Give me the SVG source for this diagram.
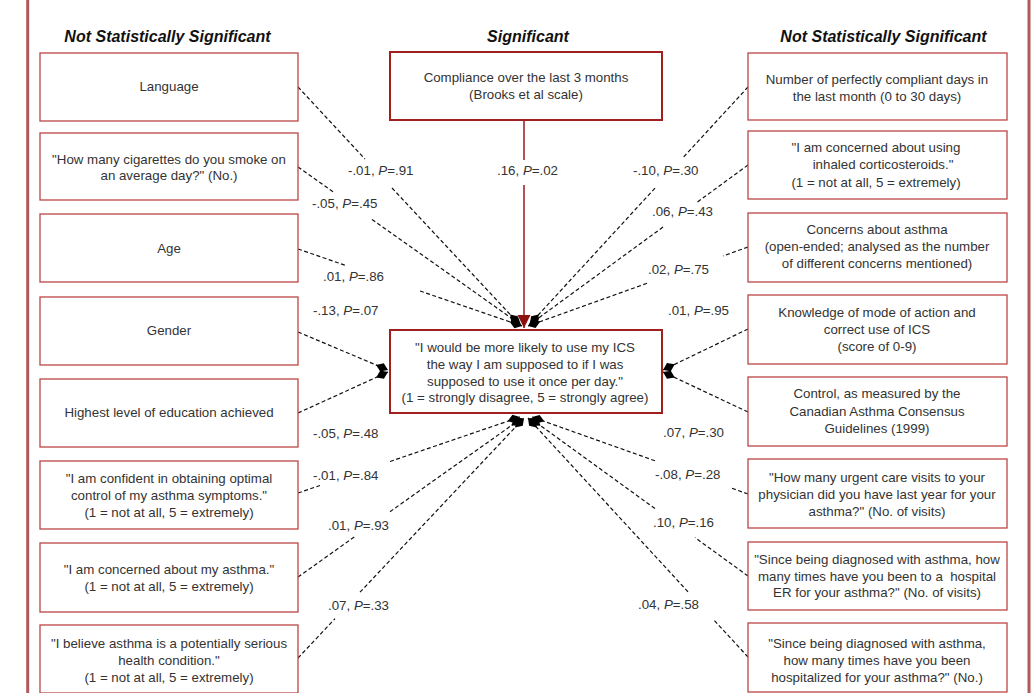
<svg xmlns="http://www.w3.org/2000/svg" width="1035" height="693" viewBox="0 0 1035 693">
<style>
.t{font-family:"Liberation Sans",Arial,sans-serif;font-size:13.3px;fill:#333;text-anchor:middle}
.h{font-family:"Liberation Sans",Arial,sans-serif;font-size:16px;font-weight:bold;font-style:italic;fill:#111;text-anchor:middle}
.l{font-family:"Liberation Sans",Arial,sans-serif;font-size:13.3px;fill:#333}
.box{fill:#fff;stroke:#bc4646;stroke-width:1.3}
.main{fill:#fff;stroke:#a02020;stroke-width:2}
.d{stroke:#111;stroke-width:1.2;stroke-dasharray:4 2.5;fill:none}
.dm{stroke:#111;stroke-width:1.2;stroke-dasharray:4 2.5;fill:none;marker-end:url(#dia)}
.side{stroke:#b05a5a;stroke-width:3}
</style>
<defs>
<marker id="dia" markerUnits="userSpaceOnUse" markerWidth="14" markerHeight="10" viewBox="0 -5 14 10" refX="13" refY="0" orient="auto">
<path d="M0,0 L6.5,-4.5 L13,0 L6.5,4.5 Z" fill="#000"/>
</marker>
<marker id="tri" markerUnits="userSpaceOnUse" markerWidth="14" markerHeight="14" viewBox="0 -7 14 14" refX="13" refY="0" orient="auto">
<path d="M0,-6.5 L13,0 L0,6.5 Z" fill="#8b1010"/>
</marker>
</defs>
<rect width="1035" height="693" fill="#fff"/>
<line class="side" x1="27.7" y1="0" x2="27.7" y2="693"/>
<line class="side" x1="1029" y1="0" x2="1029" y2="693"/>
<text class="h" x="167.5" y="42">Not Statistically Significant</text>
<text class="h" x="528" y="42">Significant</text>
<text class="h" x="883.5" y="42">Not Statistically Significant</text>

<g id="connectors">
<line class="d" x1="298" y1="87" x2="365" y2="159"/><line class="dm" x1="392" y1="188" x2="519" y2="324"/>
<line class="d" x1="298" y1="167" x2="333" y2="191.8"/><line class="dm" x1="372" y1="219.4" x2="521" y2="325"/>
<line class="d" x1="298" y1="249" x2="345" y2="265.2"/><line class="dm" x1="420" y1="291" x2="522" y2="326"/>
<line class="dm" x1="298" y1="332" x2="388" y2="370"/>
<line class="dm" x1="298" y1="413" x2="388" y2="372"/>
<line class="d" x1="298" y1="493" x2="320" y2="485.5"/><line class="dm" x1="390" y1="461.5" x2="520" y2="417"/>
<line class="d" x1="298" y1="577" x2="355" y2="536.5"/><line class="dm" x1="390" y1="511.7" x2="522" y2="418"/>
<line class="d" x1="298" y1="658" x2="335" y2="618.7"/><line class="dm" x1="360" y1="592.2" x2="524" y2="418"/>
<line class="d" x1="748" y1="87" x2="683" y2="157.7"/><line class="dm" x1="655" y1="188.1" x2="530" y2="324"/>
<line class="d" x1="748" y1="165" x2="697" y2="202.3"/><line class="dm" x1="663" y1="227.1" x2="529" y2="325"/>
<line class="d" x1="748" y1="247" x2="723" y2="256"/><line class="dm" x1="647" y1="283.3" x2="528" y2="326"/>
<line class="dm" x1="748" y1="329" x2="663" y2="370"/>
<line class="dm" x1="748" y1="412" x2="663" y2="372"/>
<line class="d" x1="748" y1="494" x2="730" y2="487.6"/><line class="dm" x1="655" y1="460.8" x2="532" y2="417"/>
<line class="d" x1="748" y1="576" x2="695" y2="537.6"/><line class="dm" x1="655" y1="508.6" x2="530" y2="418"/>
<line class="d" x1="748" y1="657" x2="713" y2="619"/><line class="dm" x1="688" y1="591.8" x2="528" y2="418"/>
<line x1="524" y1="120" x2="524" y2="160" stroke="#a02828" stroke-width="1.6"/>
<line x1="524" y1="185" x2="524" y2="328" stroke="#a02828" stroke-width="1.6" marker-end="url(#tri)"/>
</g>

<g id="labels">
<text class="l" x="348" y="175">-.01, <tspan font-style="italic">P</tspan>=.91</text>
<text class="l" x="312" y="208">-.05, <tspan font-style="italic">P</tspan>=.45</text>
<text class="l" x="323" y="281">.01, <tspan font-style="italic">P</tspan>=.86</text>
<text class="l" x="313" y="315">-.13, <tspan font-style="italic">P</tspan>=.07</text>
<text class="l" x="313" y="438">-.05, <tspan font-style="italic">P</tspan>=.48</text>
<text class="l" x="313" y="480">-.01, <tspan font-style="italic">P</tspan>=.84</text>
<text class="l" x="328" y="530">.01, <tspan font-style="italic">P</tspan>=.93</text>
<text class="l" x="328" y="610">.07, <tspan font-style="italic">P</tspan>=.33</text>
<text class="l" x="497" y="175">.16, <tspan font-style="italic">P</tspan>=.02</text>
<text class="l" x="633" y="175">-.10, <tspan font-style="italic">P</tspan>=.30</text>
<text class="l" x="652" y="216">.06, <tspan font-style="italic">P</tspan>=.43</text>
<text class="l" x="648" y="274">.02, <tspan font-style="italic">P</tspan>=.75</text>
<text class="l" x="668" y="315">.01, <tspan font-style="italic">P</tspan>=.95</text>
<text class="l" x="663" y="437">.07, <tspan font-style="italic">P</tspan>=.30</text>
<text class="l" x="655" y="479">-.08, <tspan font-style="italic">P</tspan>=.28</text>
<text class="l" x="653" y="527">.10, <tspan font-style="italic">P</tspan>=.16</text>
<text class="l" x="638" y="609">.04, <tspan font-style="italic">P</tspan>=.58</text>
</g>

<g id="n-compliance"><rect class="main" x="390" y="52" width="272" height="68" stroke-width="1.6"/>
<text class="t" x="526" y="82">Compliance over the last 3 months</text>
<text class="t" x="526" y="99">(Brooks et al scale)</text></g>

<g id="n-outcome"><rect class="main" x="390" y="330" width="272" height="83"/>
<text class="t" x="525" y="352">"I would be more likely to use my ICS</text>
<text class="t" x="525" y="369">the way I am supposed to if I was</text>
<text class="t" x="525" y="386">supposed to use it once per day."</text>
<text class="t" x="525" y="402">(1 = strongly disagree, 5 = strongly agree)</text></g>

<g id="n-language"><rect class="box" x="40" y="53" width="258" height="68"/>
<text class="t" x="169" y="91">Language</text></g>
<g id="n-cigarettes"><rect class="box" x="40" y="133" width="258" height="67"/>
<text class="t" x="169" y="164">"How many cigarettes do you smoke on</text>
<text class="t" x="169" y="180">an average day?" (No.)</text></g>
<g id="n-age"><rect class="box" x="40" y="214" width="258" height="68"/>
<text class="t" x="169" y="253">Age</text></g>
<g id="n-gender"><rect class="box" x="40" y="297" width="258" height="68"/>
<text class="t" x="169" y="335">Gender</text></g>
<g id="n-education"><rect class="box" x="40" y="379" width="258" height="68"/>
<text class="t" x="169" y="417">Highest level of education achieved</text></g>
<g id="n-confident"><rect class="box" x="40" y="461" width="258" height="68"/>
<text class="t" x="169" y="483">"I am confident in obtaining optimal</text>
<text class="t" x="169" y="500">control of my asthma symptoms."</text>
<text class="t" x="169" y="517">(1 = not at all, 5 = extremely)</text></g>
<g id="n-concerned"><rect class="box" x="40" y="543" width="258" height="69"/>
<text class="t" x="169" y="574">"I am concerned about my asthma."</text>
<text class="t" x="169" y="591">(1 = not at all, 5 = extremely)</text></g>
<g id="n-serious"><rect class="box" x="40" y="625" width="258" height="68"/>
<text class="t" x="169" y="648">"I believe asthma is a potentially serious</text>
<text class="t" x="169" y="665">health condition."</text>
<text class="t" x="169" y="682">(1 = not at all, 5 = extremely)</text></g>

<g id="n-days"><rect class="box" x="748" y="53" width="259" height="67"/>
<text class="t" x="877" y="84">Number of perfectly compliant days in</text>
<text class="t" x="877" y="101">the last month (0 to 30 days)</text></g>
<g id="n-ics"><rect class="box" x="748" y="131" width="259" height="68"/>
<text class="t" x="876" y="152">"I am concerned about using</text>
<text class="t" x="883" y="169">inhaled corticosteroids."</text>
<text class="t" x="876" y="187">(1 = not at all, 5 = extremely)</text></g>
<g id="n-concerns"><rect class="box" x="748" y="213" width="259" height="69"/>
<text class="t" x="877" y="234">Concerns about asthma</text>
<text class="t" x="877" y="251">(open-ended; analysed as the number</text>
<text class="t" x="877" y="268">of different concerns mentioned)</text></g>
<g id="n-knowledge"><rect class="box" x="748" y="295" width="259" height="69"/>
<text class="t" x="877" y="317">Knowledge of mode of action and</text>
<text class="t" x="877" y="334">correct use of ICS</text>
<text class="t" x="877" y="351">(score of 0-9)</text></g>
<g id="n-control"><rect class="box" x="748" y="377" width="259" height="69"/>
<text class="t" x="877" y="398">Control, as measured by the</text>
<text class="t" x="877" y="416">Canadian Asthma Consensus</text>
<text class="t" x="877" y="433">Guidelines (1999)</text></g>
<g id="n-urgent"><rect class="box" x="748" y="459" width="259" height="69"/>
<text class="t" x="877" y="482">"How many urgent care visits to your</text>
<text class="t" x="877" y="499">physician did you have last year for your</text>
<text class="t" x="877" y="516">asthma?" (No. of visits)</text></g>
<g id="n-er"><rect class="box" x="748" y="542" width="259" height="68"/>
<text class="t" x="877" y="564">"Since being diagnosed with asthma, how</text>
<text class="t" x="877" y="581" xml:space="preserve">many times have you been to a  hospital</text>
<text class="t" x="877" y="597">ER for your asthma?" (No. of visits)</text></g>
<g id="n-hosp"><rect class="box" x="748" y="623" width="259" height="69"/>
<text class="t" x="877" y="648">"Since being diagnosed with asthma,</text>
<text class="t" x="877" y="665">how many times have you been</text>
<text class="t" x="877" y="682">hospitalized for your asthma?" (No.)</text></g>
</svg>
